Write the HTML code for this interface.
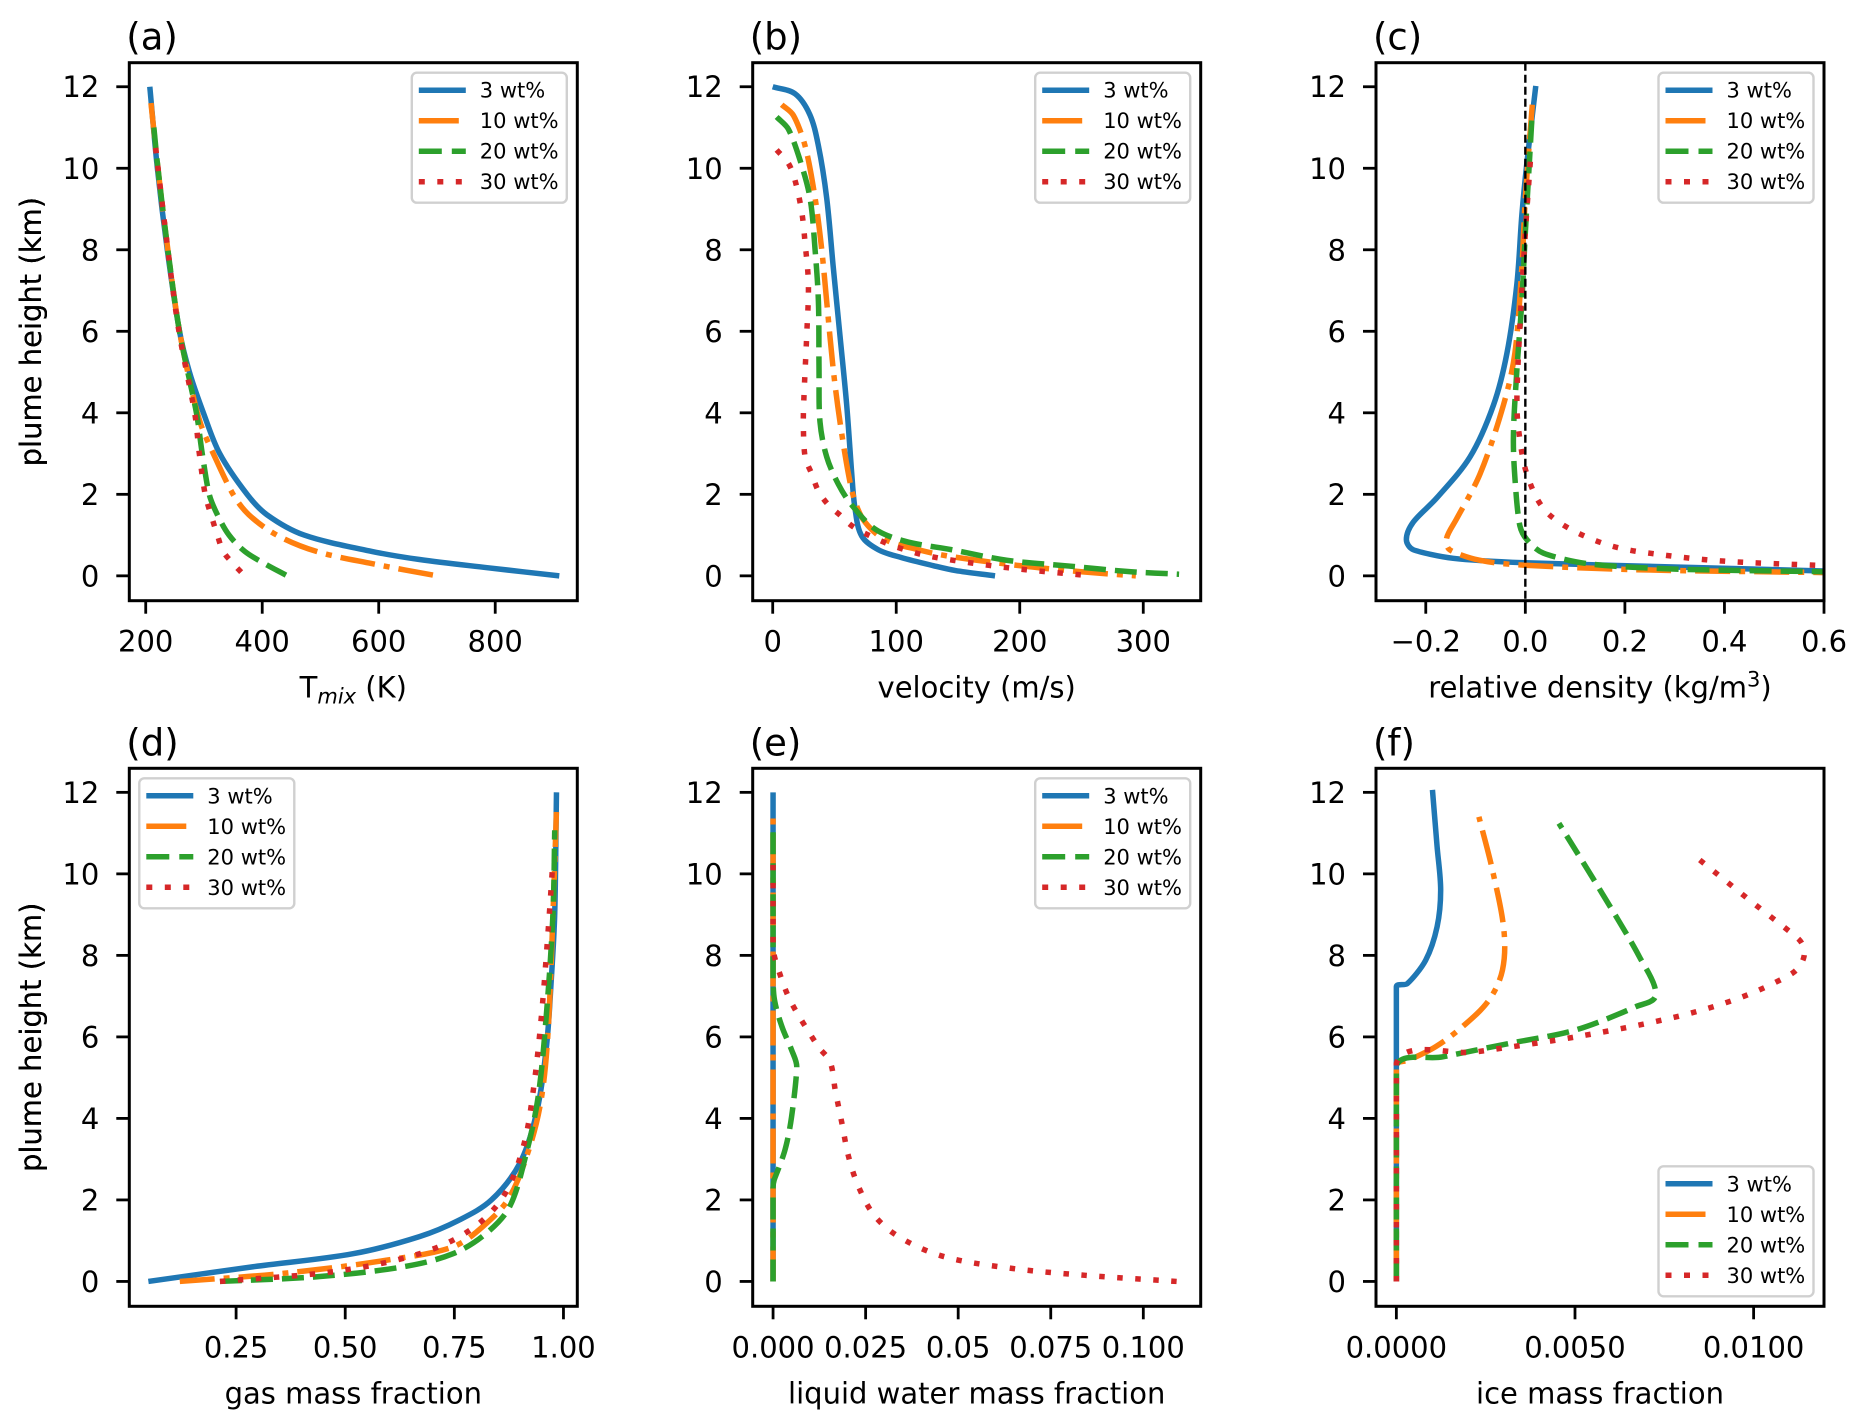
<!DOCTYPE html>
<html><head><meta charset="utf-8"><title>Plume profiles</title>
<style>
html,body{margin:0;padding:0;background:#fff;}
svg{display:block;font-family:"DejaVu Sans","Liberation Sans",sans-serif;}
</style></head>
<body>
<svg id="fig" width="1864" height="1427" viewBox="0 0 1864 1427" xmlns="http://www.w3.org/2000/svg"></svg>
<script>
// ---------- data ----------
const seriesNames = ["3 wt%", "10 wt%", "20 wt%", "30 wt%"];
const yTicks = [0, 2, 4, 6, 8, 10, 12];

// (a) T_mix (K) vs height (km)
const aH0 = [12, 10, 8, 6, 5, 4, 3, 2, 1.5, 1, 0.6, 0.4, 0.2, 0];
const aT0 = [207, 220, 237, 258, 275, 299, 327, 374, 408, 472, 588, 670, 786, 910];
const aH1 = [11.6, 10, 8, 6, 4.5, 3.7, 3, 2, 1.5, 1, 0.6, 0.3, 0];
const aT1 = [209, 221, 238, 258, 280, 295, 316, 350, 377, 425, 493, 588, 700];
const aH2 = [11, 10, 8, 6, 4, 3, 2, 1.5, 1, 0.6, 0.3, 0];
const aT2 = [214, 221, 238, 258, 287, 297, 309, 323, 343, 370, 404, 443];
const aH3 = [10.5, 8, 6, 4, 3, 2, 1.5, 1, 0.6, 0.3, 0];
const aT3 = [217, 238, 257, 284, 292, 302, 312, 323, 333, 350, 370];
const aTicks = [200, 400, 600, 800];

// (b) velocity (m/s)
const bH0 = [12, 11.83, 11.32, 10.55, 9.27, 7.58, 5.88, 4.19, 2.5, 1.66, 0.98, 0.64, 0.45, 0.25, 0.13, 0];
const bV0 = [0, 18, 30, 37, 43.7, 49, 54.5, 59.9, 64, 66.6, 72, 85.5, 104, 130, 148, 180];
const bH1 = [11.56, 11.3, 10.55, 9.27, 8.0, 6.73, 5.04, 3.77, 2.5, 1.83, 1.32, 0.89, 0.64, 0.47, 0.25, 0.1, 0];
const bV1 = [7.3, 16.7, 26.2, 34.3, 39.7, 43.7, 49.1, 54.5, 61.3, 66.6, 74.7, 90.9, 117.9, 145, 200, 250, 294];
const bH2 = [11.26, 10.96, 10.2, 9.27, 8.0, 6.73, 5.04, 3.77, 2.92, 2.25, 1.74, 1.15, 0.85, 0.64, 0.38, 0.24, 0.1, 0.04];
const bV2 = [3.2, 12.7, 22.1, 30.2, 34.3, 37, 37.5, 38.3, 43.7, 53.1, 63.9, 82.8, 107, 145, 190, 240, 290, 329];
const bH3 = [10.45, 10.12, 9.7, 8.93, 8.17, 7.16, 5.88, 4.61, 3.77, 2.92, 2.5, 2.08, 1.74, 1.49, 1.23, 1.02, 0.72, 0.47, 0.2, 0];
const bV3 = [3.2, 12.7, 18.1, 23.5, 26.2, 28.9, 27.5, 25.6, 24.8, 26.2, 31.6, 37, 45.1, 54.5, 64, 76.1, 99, 128.7, 190, 258];
const bTicks = [0, 100, 200, 300];

// (c) relative density (kg/m3)
const cH0 = [12.02, 10.12, 8.85, 7.16, 5.46, 4.19, 2.92, 1.91, 1.32, 0.89, 0.64, 0.43, 0.32, 0.22, 0.12];
const cD0 = [0.021, 0.003, -0.007, -0.017, -0.037, -0.064, -0.111, -0.178, -0.225, -0.239, -0.225, -0.145, 0, 0.29, 0.6];
const cH1 = [11.56, 9.27, 7.58, 5.46, 4.19, 2.5, 1.4, 0.93, 0.64, 0.38, 0.26, 0.15, 0.08];
const cD1 = [0.014, 0, -0.007, -0.021, -0.044, -0.091, -0.138, -0.158, -0.152, -0.091, 0, 0.224, 0.6];
const cH2 = [11.17, 10.12, 8.42, 6.73, 5.04, 3.35, 2.08, 1.23, 0.89, 0.56, 0.30, 0.17, 0.1];
const cD2 = [0.013, 0.008, 0, -0.007, -0.017, -0.024, -0.019, -0.011, 0.003, 0.036, 0.124, 0.29, 0.6];
const cH3 = [10.16, 8.42, 5.88, 4.19, 3.35, 2.5, 1.66, 1.15, 0.72, 0.51, 0.36, 0.25];
const cD3 = [0.01, 0, -0.012, -0.017, -0.011, 0.003, 0.036, 0.09, 0.177, 0.278, 0.4, 0.6];
const cTicks = [-0.2, 0.0, 0.2, 0.4, 0.6];
const cTickLabels = ["\u22120.2", "0.0", "0.2", "0.4", "0.6"];

// (d) gas mass fraction
const dH0 = [0, 0.36, 0.68, 1.1, 1.5, 2.0, 2.9, 4.12, 5.76, 7.39, 9.03, 12];
const dG0 = [0.049, 0.289, 0.518, 0.67, 0.76, 0.835, 0.9, 0.938, 0.961, 0.972, 0.98, 0.984];
const dH1 = [0, 0.2, 0.52, 0.85, 1.42, 2.08, 3.31, 4.53, 6.17, 9.03, 11.56];
const dG1 = [0.121, 0.36, 0.594, 0.747, 0.823, 0.877, 0.923, 0.95, 0.965, 0.976, 0.984];
const dH2 = [0, 0.12, 0.36, 0.68, 1.18, 1.84, 3.15, 4.53, 6.57, 9.03, 11.07];
const dG2 = [0.213, 0.442, 0.633, 0.747, 0.823, 0.877, 0.915, 0.942, 0.961, 0.976, 0.98];
const dH3 = [0, 0.25, 0.68, 1.26, 2.08, 3.31, 4.7, 6.57, 8.62, 10.33];
const dG3 = [0.213, 0.48, 0.67, 0.786, 0.862, 0.908, 0.931, 0.95, 0.965, 0.976];
const dTicks = [0.25, 0.5, 0.75, 1.0];
const dTickLabels = ["0.25", "0.50", "0.75", "1.00"];

// (e) liquid water mass fraction
const eH0 = [0, 12];
const eL0 = [0, 0];
const eH1 = [0, 11.56];
const eL1 = [0, 0];
const eH2 = [0, 2.3, 2.49, 3.22, 4.04, 5.27, 5.68, 6.25, 6.9, 7.5, 11.2];
const eL2 = [0, 0, 0.0003, 0.0032, 0.005, 0.0064, 0.005, 0.0024, 0.0004, 0, 0];
const eH3 = [0, 0.15, 0.32, 0.6, 1.05, 1.59, 2.32, 3.06, 3.88, 4.69, 5.39, 5.76, 6.82, 7.5, 8.2, 10.45];
const eL3 = [0.109, 0.0843, 0.0645, 0.0465, 0.0348, 0.0276, 0.0231, 0.0204, 0.0186, 0.0168, 0.0154, 0.0122, 0.00505, 0.002, 0, 0];
const eTicks = [0, 0.025, 0.05, 0.075, 0.1];
const eTickLabels = ["0.000", "0.025", "0.05", "0.075", "0.100"];

// (f) ice mass fraction
const fH0 = [0, 7.23, 7.31, 7.88, 8.7, 9.6, 10.67, 12.06];
const fI0 = [0, 0, 0.00031, 0.00082, 0.00114, 0.00124, 0.00114, 0.00101];
const fH1 = [0, 5.31, 5.43, 5.76, 6.25, 6.9, 7.64, 8.62, 10.09, 11.4];
const fI1 = [0, 0, 0.00035, 0.0011, 0.00185, 0.00259, 0.00297, 0.00301, 0.00269, 0.00231];
const fH2 = [0, 5.27, 5.51, 5.84, 6.17, 6.74, 7.03, 7.97, 9.52, 11.24];
const fI2 = [0, 0, 0.0013, 0.00316, 0.00502, 0.0067, 0.00726, 0.0068, 0.00576, 0.00455];
const fH3 = [0, 5.35, 5.63, 6.0, 6.49, 6.98, 7.56, 7.97, 8.38, 9.36, 10.42];
const fI3 = [0, 0, 0.00222, 0.00502, 0.00782, 0.00968, 0.01108, 0.01141, 0.01128, 0.00988, 0.00838];
const fTicks = [0, 0.005, 0.01];
const fTickLabels = ["0.0000", "0.0050", "0.0100"];

// ---------- drawing ----------
const NS = "http://www.w3.org/2000/svg";
const svg = document.getElementById("fig");
const colors = ["#1f77b4", "#ff7f0e", "#2ca02c", "#d62728"];
const dashes = ["", "35 9 6 9", "22 9", "5.5 12.5"];
const LW = 5.5;
const AW = 448, AH = 538;
const YMIN = -0.61, YMAX = 12.59;

function mk(tag, attrs, parent) {
  const e = document.createElementNS(NS, tag);
  for (const k in attrs) e.setAttribute(k, attrs[k]);
  (parent || svg).appendChild(e);
  return e;
}

function dist(a, b) { return Math.hypot(a[0] - b[0], a[1] - b[1]); }
function fmt(p) { return p[0].toFixed(2) + "," + p[1].toFixed(2); }

function smoothPath(pts) {
  let d = "M" + fmt(pts[0]);
  const n = pts.length;
  if (n < 3) return d + pts.slice(1).map(p => " L" + fmt(p)).join("");
  const tan = pts.map((p, i) => {
    const a = pts[Math.max(0, i - 1)], b = pts[Math.min(n - 1, i + 1)];
    const dx = b[0] - a[0], dy = b[1] - a[1];
    const L = Math.hypot(dx, dy) || 1;
    return [dx / L, dy / L];
  });
  for (let i = 0; i < n - 1; i++) {
    const p1 = pts[i], p2 = pts[i + 1];
    // straight vertical runs (constant value) are drawn as straight lines
    if (Math.abs(p1[0] - p2[0]) < 0.01) { d += " L" + fmt(p2); continue; }
    const seg = dist(p1, p2);
    const l1 = i > 0 ? Math.min(seg, dist(pts[i - 1], p1)) : seg;
    const l2 = i + 2 < n ? Math.min(seg, dist(p2, pts[i + 2])) : seg;
    const k1 = 0.33 * Math.min(seg, l1 * 1.5), k2 = 0.33 * Math.min(seg, l2 * 1.5);
    const c1 = [p1[0] + tan[i][0] * k1, p1[1] + tan[i][1] * k1];
    const c2 = [p2[0] - tan[i + 1][0] * k2, p2[1] - tan[i + 1][1] * k2];
    d += " C" + fmt(c1) + " " + fmt(c2) + " " + fmt(p2);
  }
  return d;
}

function panel(id, left, top, xmin, xmax, xTicks, xTickLabels, xLabelHTML, series, legendPos) {
  const g = mk("g", {});
  
  
  const xs = v => left + (v - xmin) / (xmax - xmin) * AW;
  const ys = h => top + (YMAX - h) / (YMAX - YMIN) * AH;
  const clipId = "clip-" + id;
  const cp = mk("clipPath", { id: clipId }, g);
  mk("rect", { x: left, y: top, width: AW, height: AH }, cp);

  const plot = mk("g", { "clip-path": "url(#" + clipId + ")" }, g);
  
  
  for (let s = 0; s < series.length; s++) {
    const [xv, hv] = series[s];
    const pts = xv.map((v, i) => [xs(v), ys(hv[i])]);
    const p = mk("path", { d: smoothPath(pts), fill: "none", stroke: colors[s], "stroke-width": LW, "stroke-linejoin": "round", "stroke-linecap": "butt" }, plot);
    if (dashes[s]) p.setAttribute("stroke-dasharray", dashes[s]);
    
    
  }
  if (id === "c") {
    const zl = mk("line", { x1: xs(0), x2: xs(0), y1: top, y2: top + AH, stroke: "#000", "stroke-width": 2.4, "stroke-dasharray": "8 4" }, plot);
    
    
  }
  const fr = mk("rect", { x: left, y: top, width: AW, height: AH, fill: "none", stroke: "#000", "stroke-width": 3 }, g);
  
  
  yTicks.forEach(t => {
    const y = ys(t);
    mk("line", { x1: left - 13, x2: left, y1: y, y2: y, stroke: "#000", "stroke-width": 2.8 }, g);
    const tx = mk("text", { x: left - 30, y: y + 10.5, "text-anchor": "end", "font-size": 29, fill: "#000" }, g);
    tx.textContent = String(t);
    
    
  });
  xTicks.forEach((t, i) => {
    const x = xs(t);
    mk("line", { x1: x, x2: x, y1: top + AH, y2: top + AH + 13, stroke: "#000", "stroke-width": 2.8 }, g);
    const tx = mk("text", { x: x, y: top + AH + 51, "text-anchor": "middle", "font-size": 29, fill: "#000" }, g);
    tx.textContent = xTickLabels ? xTickLabels[i] : String(t);
    
    
  });
  const yl = mk("text", { x: 0, y: 0, transform: "translate(41," + (top + AH / 2) + ") rotate(-90)", "text-anchor": "middle", "font-size": 29, fill: "#000" }, g);
  yl.textContent = "plume height (km)";
  
  
  const xl = mk("text", { x: left + AW / 2, y: top + AH + 97, "text-anchor": "middle", "font-size": 29, fill: "#000" }, g);
  xl.innerHTML = xLabelHTML;
  
  
  const pl = mk("text", { x: left - 3, y: top - 13, "font-size": 37, fill: "#000" }, g);
  pl.textContent = "(" + id + ")";
  
  
  const LWd = 155, LH = 130;
  let lx, ly;
  if (legendPos === "ur") { lx = left + AW - 10.5 - LWd; ly = top + 10; }
  else if (legendPos === "ul") { lx = left + 10; ly = top + 10; }
  else { lx = left + AW - 10.5 - LWd; ly = top + AH - 10 - LH; }
  const lg = mk("g", {}, g);
  
  
  mk("rect", { x: lx, y: ly, width: LWd, height: LH, rx: 5, fill: "#fff", "fill-opacity": 0.85, stroke: "#d0d0d0", "stroke-width": 2.4 }, lg);
  seriesNames.forEach((nm, s) => {
    const ry = ly + 17.5 + s * 30.5;
    const e = mk("g", {}, lg);
    
    
    const ln = mk("line", { x1: lx + 7, x2: lx + 54, y1: ry, y2: ry, stroke: colors[s], "stroke-width": LW }, e);
    if (dashes[s]) ln.setAttribute("stroke-dasharray", s === 3 ? "6 12.5" : (s === 2 ? "23 10" : "40 9"));
    const t = mk("text", { x: lx + 68, y: ry + 7.5, "font-size": 21, fill: "#000" }, e);
    t.textContent = nm;
  });
}

const L = [129.3, 752.7, 1376], T = [62.7, 768.3];
panel("a", L[0], T[0], 171.8, 940.9, aTicks, null,
  'T<tspan font-size="21" font-style="italic" dy="6">mix</tspan><tspan dy="-6"> (K)</tspan>',
  [[aT0, aH0], [aT1, aH1], [aT2, aH2], [aT3, aH3]], "ur");
panel("b", L[1], T[0], -16.2, 346.5, bTicks, null, 'velocity (m/s)',
  [[bV0, bH0], [bV1, bH1], [bV2, bH2], [bV3, bH3]], "ur");
panel("c", L[2], T[0], -0.3, 0.6, cTicks, cTickLabels,
  'relative density (kg/m<tspan font-size="21" dy="-11">3</tspan><tspan dy="11">)</tspan>',
  [[cD0, cH0], [cD1, cH1], [cD2, cH2], [cD3, cH3]], "ur");
panel("d", L[0], T[1], 0.0053, 1.0317, dTicks, dTickLabels, 'gas mass fraction',
  [[dG0, dH0], [dG1, dH1], [dG2, dH2], [dG3, dH3]], "ul");
panel("e", L[1], T[1], -0.0055, 0.1155, eTicks, eTickLabels, 'liquid water mass fraction',
  [[eL0, eH0], [eL1, eH1], [eL2, eH2], [eL3, eH3]], "ur");
panel("f", L[2], T[1], -0.00057, 0.01197, fTicks, fTickLabels, 'ice mass fraction',
  [[fI0, fH0], [fI1, fH1], [fI2, fH2], [fI3, fH3]], "lr");
</script>
</body></html>
